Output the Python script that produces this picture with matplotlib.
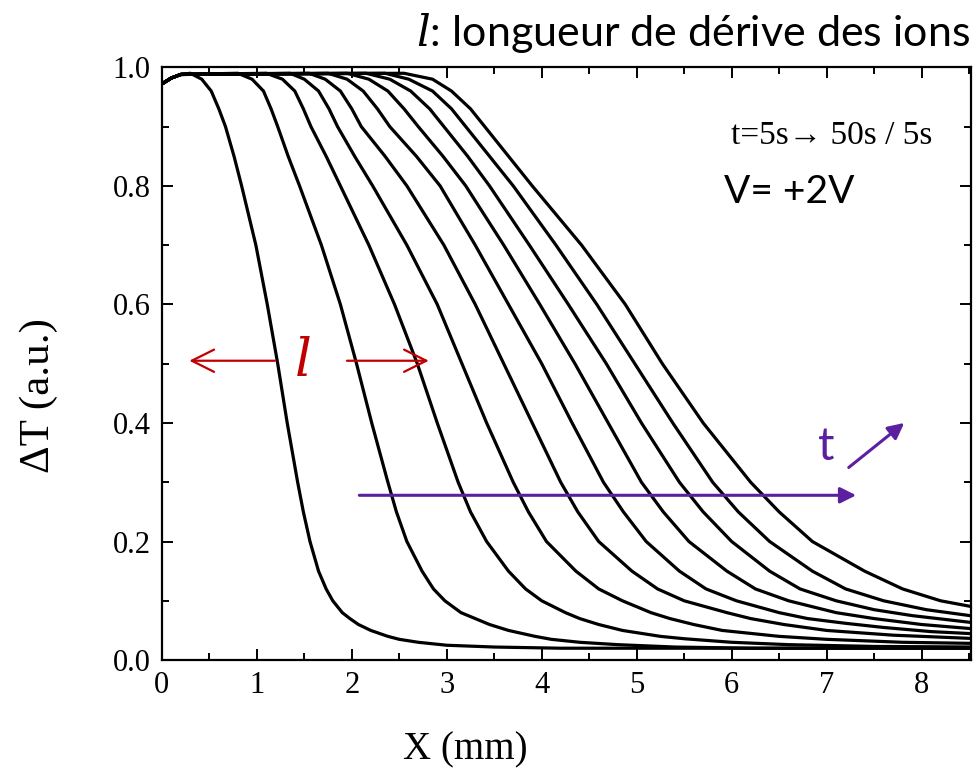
import matplotlib
matplotlib.use("Agg")
import matplotlib.pyplot as plt
from matplotlib.ticker import MultipleLocator

# drift profiles, t = 5 s -> 50 s every 5 s
times = [5, 10, 15, 20, 25, 30, 35, 40, 45, 50]

# shared start of every profile (near x = 0)
head_x = [0.0, 0.1, 0.2]
head_y = [0.972, 0.982, 0.988]

# position (mm) where each profile crosses these levels
levels = [0.99, 0.98, 0.96, 0.93, 0.9, 0.85, 0.8, 0.7, 0.6, 0.5, 0.4, 0.3,
          0.25, 0.2, 0.15, 0.12, 0.1]
x_levels = [
    [0.30, 0.42, 0.52, 0.60, 0.67, 0.76, 0.84, 0.99, 1.11, 1.22, 1.32, 1.43, 1.49, 1.56, 1.65, 1.73, 1.80],
    [0.80, 0.95, 1.07, 1.15, 1.22, 1.33, 1.45, 1.68, 1.88, 2.05, 2.21, 2.38, 2.47, 2.58, 2.74, 2.86, 2.98],
    [1.10, 1.27, 1.40, 1.49, 1.57, 1.73, 1.88, 2.18, 2.45, 2.69, 2.90, 3.12, 3.25, 3.42, 3.65, 3.83, 4.00],
    [1.35, 1.50, 1.65, 1.76, 1.85, 2.03, 2.22, 2.58, 2.90, 3.16, 3.42, 3.70, 3.86, 4.05, 4.36, 4.60, 4.85],
    [1.55, 1.72, 1.88, 2.00, 2.10, 2.35, 2.58, 2.97, 3.30, 3.60, 3.90, 4.20, 4.38, 4.60, 4.95, 5.22, 5.50],
    [1.75, 1.95, 2.12, 2.27, 2.40, 2.68, 2.93, 3.30, 3.65, 4.00, 4.32, 4.65, 4.86, 5.10, 5.45, 5.73, 6.05],
    [1.95, 2.18, 2.38, 2.55, 2.70, 2.96, 3.20, 3.60, 3.98, 4.35, 4.70, 5.05, 5.28, 5.55, 5.95, 6.25, 6.60],
    [2.15, 2.40, 2.62, 2.82, 2.97, 3.22, 3.45, 3.87, 4.28, 4.68, 5.05, 5.45, 5.70, 6.00, 6.40, 6.72, 7.10],
    [2.35, 2.60, 2.85, 3.05, 3.20, 3.45, 3.70, 4.15, 4.58, 4.98, 5.38, 5.80, 6.07, 6.40, 6.85, 7.20, 7.60],
    [2.55, 2.85, 3.05, 3.25, 3.40, 3.65, 3.90, 4.42, 4.88, 5.27, 5.70, 6.20, 6.50, 6.85, 7.40, 7.80, 8.20],
]

# low tails of each profile
tail_x = [
    [1.90, 1.98, 2.07, 2.20, 2.38, 2.50, 2.70, 3.00, 3.50, 4.20, 8.60],
    [3.15, 3.30, 3.45, 3.65, 3.93, 4.10, 4.40, 4.80, 5.40, 6.20, 8.60],
    [4.25, 4.40, 4.60, 4.85, 5.25, 5.50, 6.00, 6.60, 7.50, 8.60],
    [5.15, 5.35, 5.60, 5.90, 6.50, 7.00, 7.80, 8.60],
    [5.95, 6.20, 6.55, 7.00, 7.70, 8.60],
    [6.50, 6.80, 7.20, 7.60, 8.10, 8.60],
    [7.10, 7.50, 8.00, 8.60],
    [7.50, 7.90, 8.60],
    [8.05, 8.60],
    [8.60],
]
tail_y = [
    [0.08, 0.07, 0.06, 0.05, 0.04, 0.035, 0.03, 0.025, 0.022, 0.02, 0.02],
    [0.08, 0.07, 0.06, 0.05, 0.04, 0.035, 0.03, 0.026, 0.022, 0.02, 0.02],
    [0.08, 0.07, 0.06, 0.05, 0.04, 0.036, 0.03, 0.026, 0.023, 0.022],
    [0.08, 0.07, 0.06, 0.05, 0.04, 0.035, 0.03, 0.028],
    [0.08, 0.07, 0.06, 0.05, 0.042, 0.036],
    [0.08, 0.07, 0.062, 0.055, 0.048, 0.044],
    [0.08, 0.07, 0.06, 0.052],
    [0.085, 0.075, 0.062],
    [0.085, 0.073],
    [0.088],
]

plt.rcParams['mathtext.fontset'] = 'dejavuserif'
serif = ['Liberation Serif', 'DejaVu Serif']
sans = ['Lato', 'DejaVu Sans']

fig = plt.figure(figsize=(9.75, 7.83), dpi=100)
ax = fig.add_axes([0.166, 0.157, 0.8299, 0.757])

for i, t in enumerate(times):
    xs = head_x + x_levels[i] + tail_x[i]
    ys = head_y + levels + tail_y[i]
    ax.plot(xs, ys, color='black', lw=2.3, solid_joinstyle='round',
            solid_capstyle='round', label=f"{t} s")

ax.set_xlim(0, 8.52)
ax.set_ylim(0, 1.0)
ax.xaxis.set_major_locator(MultipleLocator(1))
ax.xaxis.set_minor_locator(MultipleLocator(0.5))
ax.yaxis.set_major_locator(MultipleLocator(0.2))
ax.yaxis.set_minor_locator(MultipleLocator(0.1))
ax.tick_params(which='both', direction='in', top=True, right=True, width=1.4)
ax.tick_params(which='major', length=8, labelsize=22)
ax.tick_params(which='minor', length=5)
ax.tick_params(axis='x', pad=8)
ax.tick_params(axis='y', pad=8)
for lab in ax.get_xticklabels() + ax.get_yticklabels():
    lab.set_family(serif)
for sp in ax.spines.values():
    sp.set_linewidth(1.6)

ax.set_xlabel('X (mm)', family=serif, fontsize=28)
ax.set_ylabel('ΔT (a.u.)', family=serif, fontsize=31)
ax.xaxis.set_label_coords(0.375, -0.12)
ax.yaxis.set_label_coords(-0.128, 0.447)

# top-right notes
ax.text(7.05, 0.885, 't=5s→ 50s / 5s', family=serif, fontsize=24,
        ha='center', va='center')
ax.text(5.92, 0.79, 'V= +2V', family=sans, fontsize=28, ha='left', va='center')

# ion drift length marker
red = '#c00000'
ax.annotate('', xy=(0.26, 0.505), xytext=(1.22, 0.505),
            arrowprops=dict(arrowstyle='->', color=red, lw=1.6, mutation_scale=40))
ax.annotate('', xy=(2.84, 0.505), xytext=(1.92, 0.505),
            arrowprops=dict(arrowstyle='->', color=red, lw=1.6, mutation_scale=40))
ax.text(1.48, 0.505, '$l$', color=red, fontsize=38, ha='center', va='center')

# time direction
purple = '#5b1fa0'
ax.annotate('', xy=(7.34, 0.278), xytext=(2.05, 0.278),
            arrowprops=dict(arrowstyle='-|>', color=purple, lw=2.2, mutation_scale=24))
ax.annotate('', xy=(7.84, 0.403), xytext=(7.21, 0.322),
            arrowprops=dict(arrowstyle='-|>', color=purple, lw=2.2, mutation_scale=24))
ax.text(7.0, 0.36, 't', color=purple, family=sans, fontsize=33, ha='center', va='center')

fig.text(0.995, 0.958, '$l$: longueur de dérive des ions', family=sans,
         fontsize=31, ha='right', va='center')

fig.savefig('out.png', dpi=100)
